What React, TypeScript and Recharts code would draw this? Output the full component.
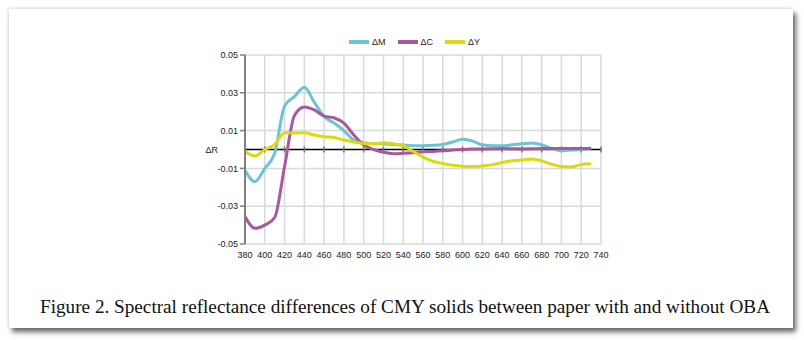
import React from 'react';
import { LineChart, Line, XAxis, YAxis, CartesianGrid, ReferenceLine } from 'recharts';

const wavelengths = [380, 390, 400, 410, 420, 430, 440, 450, 460, 470, 480, 490, 500, 510, 520, 530, 540, 550, 560, 570, 580, 590, 600, 610, 620, 630, 640, 650, 660, 670, 680, 690, 700, 710, 720, 730];
const deltaM = [-0.011, -0.017, -0.010, -0.002, 0.023, 0.028, 0.033, 0.025, 0.0175, 0.014, 0.010, 0.005, 0.0036, 0.003, 0.003, 0.0027, 0.0024, 0.002, 0.002, 0.0022, 0.0027, 0.004, 0.0054, 0.0045, 0.0025, 0.002, 0.002, 0.0025, 0.003, 0.0035, 0.0025, 0.0005, -0.0006, -0.0003, 0.0, 0.0008];
const deltaC = [-0.0355, -0.0417, -0.040, -0.036, -0.009, 0.018, 0.0225, 0.021, 0.0177, 0.0168, 0.0139, 0.0077, 0.0024, 0.0, -0.0015, -0.0022, -0.002, -0.0017, -0.0012, -0.001, -0.0007, -0.0003, 0.0, 0.0002, 0.0003, 0.0004, 0.0005, 0.0004, 0.0003, 0.0004, 0.0005, 0.0005, 0.0005, 0.0005, 0.0005, 0.0005];
const deltaY = [-0.001, -0.0034, 0.0, 0.0026, 0.0089, 0.0087, 0.0089, 0.0077, 0.0068, 0.0064, 0.005, 0.004, 0.0032, 0.003, 0.0036, 0.003, 0.002, -0.001, -0.004, -0.0062, -0.0074, -0.0083, -0.0088, -0.009, -0.0087, -0.008, -0.0069, -0.006, -0.0055, -0.005, -0.006, -0.0078, -0.009, -0.0092, -0.008, -0.0076];

const xTicks = [380, 400, 420, 440, 460, 480, 500, 520, 540, 560, 580, 600, 620, 640, 660, 680, 700, 720, 740];
const yTicks = [-0.05, -0.03, -0.01, 0.01, 0.03, 0.05];
const seriesKeys = ['M', 'C', 'Y'];
const seriesNames = ['\u0394M', '\u0394C', '\u0394Y'];
const seriesColors = ['#6EC3D3', '#A8589F', '#DCDA0C'];
const yAxisTitle = '\u0394R';
const caption = 'Figure 2. Spectral reflectance differences of CMY solids between paper with and without OBA';

const seriesValues = [deltaM, deltaC, deltaY];
const data = wavelengths.map((nm, i) => {
  const row: any = { nm };
  seriesKeys.forEach((k, s) => { row[k] = seriesValues[s][i]; });
  return row;
});

const sans = '"Liberation Sans", Arial, sans-serif';

export default function App() {
  return (
    <div style={{ position: 'absolute', left: 0, top: 0, width: 804, height: 340, background: '#fff', overflow: 'hidden' }}>
      <div style={{ position: 'absolute', left: 9, top: 9, width: 784, height: 319, background: '#fff', boxShadow: '3px 4px 5px rgba(0,0,0,0.6), -1px -1px 3px rgba(0,0,0,0.12)' }} />
      <div style={{ position: 'absolute', left: 0, top: 0 }}>
        <LineChart width={804} height={280} data={data} margin={{ top: 55, right: 203, bottom: 6, left: 185 }}>
          <CartesianGrid stroke="#d9d9d9" strokeWidth={1.5} />
          <XAxis dataKey="nm" type="number" domain={[380, 740]} ticks={xTicks} interval={0} axisLine={false} tickLine={false} height={30}
            tick={{ fontSize: 9, fill: '#222', fontFamily: sans }} />
          <YAxis type="number" domain={[-0.05, 0.05]} ticks={yTicks} interval={0} width={60} tickSize={5}
            axisLine={{ stroke: '#808080', strokeWidth: 2 }} tickLine={{ stroke: '#808080', strokeWidth: 1.5 }}
            tickFormatter={(v: number) => v.toFixed(2)}
            tick={{ fontSize: 9, fill: '#222', fontFamily: sans }} />
          <ReferenceLine y={0} stroke="#000" strokeWidth={1.5}
            label={{ value: yAxisTitle, position: 'left', offset: 27, fontSize: 9, fill: '#222', fontFamily: sans }} />
          {xTicks.map((t) => (
            <ReferenceLine key={t} segment={[{ x: t, y: -0.0016 }, { x: t, y: 0.0016 }]} stroke="#777" strokeWidth={1.5} />
          ))}
          {seriesKeys.map((k, s) => (
            <Line key={k} type="monotone" dataKey={k} stroke={seriesColors[s]} strokeWidth={3} dot={false} isAnimationActive={false} />
          ))}
        </LineChart>
      </div>
      <div style={{ position: 'absolute', left: 349, top: 37, display: 'flex', alignItems: 'center', fontFamily: sans, fontSize: 9, color: '#222' }}>
        {seriesNames.map((n, s) => (
          <div key={n} style={{ display: 'flex', alignItems: 'center', marginRight: 12 }}>
            <div style={{ width: 20, height: 4, background: seriesColors[s], marginRight: 3 }} />
            <span>{n}</span>
          </div>
        ))}
      </div>
      <svg width={804} height={340} style={{ position: 'absolute', left: 0, top: 0 }}>
        <text x={405} y={313} textAnchor="middle" fontFamily='"Liberation Serif", "Times New Roman", serif' fontSize={19} fill="#111"
          textLength={730} lengthAdjust="spacingAndGlyphs">{caption}</text>
      </svg>
    </div>
  );
}
